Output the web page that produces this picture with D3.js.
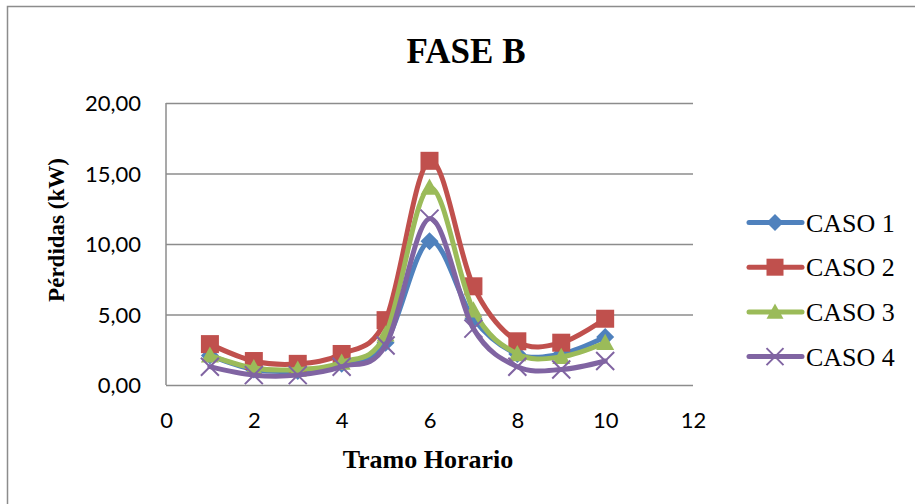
<!DOCTYPE html>
<html>
<head>
<meta charset="utf-8">
<script src="https://cdn.jsdelivr.net/npm/d3@7"></script>
<style>
  body { margin: 0; background: #fff; overflow: hidden; }
  .tick text { font-family: Lato, "Liberation Sans", sans-serif; font-size: 22px; fill: #000; }
</style>
</head>
<body>
<svg id="chart" width="915" height="504"></svg>
<script>
const svg = d3.select("#chart");

// data
var tramos = [1, 2, 3, 4, 5, 6, 7, 8, 9, 10];
var caso1 = [2.1, 1.1, 1.0, 1.5, 3.0, 10.2, 4.7, 2.2, 2.2, 3.4];
var caso2 = [2.9, 1.7, 1.5, 2.2, 4.6, 15.9, 7.0, 3.1, 3.0, 4.7];
var caso3 = [2.1, 1.2, 1.1, 1.6, 3.6, 14.0, 5.3, 2.2, 2.0, 3.0];
var caso4 = [1.3, 0.7, 0.7, 1.3, 2.8, 11.8, 4.0, 1.3, 1.1, 1.7];
var seriesNames = ["CASO 1", "CASO 2", "CASO 3", "CASO 4"];
var xTicks = [0, 2, 4, 6, 8, 10, 12];
var yTicks = [0, 5, 10, 15, 20];

var colours = ["#4F81BD", "#C0504D", "#9BBB59", "#8064A2"];
var markers = ["diamond", "square", "triangle", "cross"];

var series = [caso1, caso2, caso3, caso4].map((vals, i) => ({
  name: seriesNames[i],
  colour: colours[i],
  marker: markers[i],
  values: tramos.map((t, j) => ({x: t, y: vals[j]}))
}));

var margin = {left: 166, top: 103, right: 222, bottom: 119};
var innerWidth = 915 - margin.left - margin.right;
var innerHeight = 504 - margin.top - margin.bottom;

// outer chart border (right and bottom edges fall outside the picture)
svg.append("path")
  .attr("d", "M7.5,504V6.5H915")
  .attr("fill", "none")
  .attr("stroke", "#8c8c8c")
  .attr("stroke-width", 1.5);

svg.append("text")
  .attr("x", 466).attr("y", 63)
  .attr("text-anchor", "middle")
  .attr("font-family", "'Liberation Serif', serif")
  .attr("font-weight", "bold")
  .attr("font-size", 35)
  .text("FASE B");

var xScale = d3.scaleLinear().domain([0, 12]).range([0, innerWidth]);
var yScale = d3.scaleLinear().domain([0, 20]).range([innerHeight, 0]);

var g = svg.append("g")
  .attr("transform", `translate(${margin.left},${margin.top})`);

var yAxisG = g.append("g")
  .call(d3.axisLeft(yScale)
    .tickValues(yTicks)
    .tickSize(-innerWidth)
    .tickPadding(25)
    .tickFormat(d => d3.format(".2f")(d).replace(".", ",")));
yAxisG.select(".domain").remove();
yAxisG.selectAll(".tick line").attr("stroke", "#8c8c8c").attr("stroke-width", 1.5);
yAxisG.selectAll(".tick text").attr("dy", "0.35em");

var xAxisG = g.append("g")
  .attr("transform", `translate(0,${innerHeight})`)
  .call(d3.axisBottom(xScale).tickValues(xTicks).tickSize(0).tickPadding(27));
xAxisG.select(".domain").remove();

g.append("line")
  .attr("x1", 0).attr("x2", 0)
  .attr("y1", 0).attr("y2", innerHeight)
  .attr("stroke", "#8c8c8c").attr("stroke-width", 1.5);

svg.append("text")
  .attr("transform", "translate(64,230) rotate(-90)")
  .attr("text-anchor", "middle")
  .attr("font-family", "'Liberation Serif', serif")
  .attr("font-weight", "bold")
  .attr("font-size", 23)
  .text("Pérdidas (kW)");

svg.append("text")
  .attr("x", 428).attr("y", 468)
  .attr("text-anchor", "middle")
  .attr("font-family", "'Liberation Serif', serif")
  .attr("font-weight", "bold")
  .attr("font-size", 26)
  .text("Tramo Horario");

var lineGen = d3.line()
  .x(d => xScale(d.x))
  .y(d => yScale(d.y))
  .curve(d3.curveCatmullRom.alpha(0));

function drawMarker(sel, type, colour, s) {
  if (type === "diamond") {
    sel.append("path").attr("d", `M0,${-s}L${s},0L0,${s}L${-s},0Z`).attr("fill", colour);
  } else if (type === "square") {
    sel.append("rect").attr("x", -s).attr("y", -s).attr("width", 2 * s).attr("height", 2 * s).attr("fill", colour);
  } else if (type === "triangle") {
    sel.append("path").attr("d", `M0,${-s}L${s},${s * 0.8}L${-s},${s * 0.8}Z`).attr("fill", colour);
  } else {
    sel.append("path").attr("d", `M${-s},${-s}L${s},${s}M${-s},${s}L${s},${-s}`)
      .attr("stroke", colour).attr("stroke-width", 2).attr("fill", "none");
  }
}

var seriesG = g.selectAll(".series").data(series)
  .enter().append("g").attr("class", "series");

seriesG.append("path")
  .attr("d", d => lineGen(d.values))
  .attr("fill", "none")
  .attr("stroke", d => d.colour)
  .attr("stroke-width", 5)
  .attr("stroke-linejoin", "round")
  .attr("stroke-linecap", "round");

seriesG.each(function(s) {
  d3.select(this).selectAll(".pt").data(s.values)
    .enter().append("g")
    .attr("class", "pt")
    .attr("transform", d => `translate(${xScale(d.x)},${yScale(d.y)})`)
    .each(function() { drawMarker(d3.select(this), s.marker, s.colour, 9); });
});

// legend
var legend = svg.append("g").attr("transform", "translate(749,222.5)");
var item = legend.selectAll(".item").data(series)
  .enter().append("g")
  .attr("class", "item")
  .attr("transform", (d, i) => `translate(0,${i * 44.7})`);

item.append("line")
  .attr("x1", 0).attr("x2", 53)
  .attr("stroke", d => d.colour)
  .attr("stroke-width", 5)
  .attr("stroke-linecap", "round");
item.each(function(d) {
  drawMarker(d3.select(this).append("g").attr("transform", "translate(26,0)"), d.marker, d.colour, 8.5);
});
item.append("text")
  .attr("x", 57).attr("y", 0).attr("dy", "0.35em")
  .attr("font-family", "'Liberation Serif', serif")
  .attr("font-size", 26)
  .text(d => d.name);
</script>
</body>
</html>
